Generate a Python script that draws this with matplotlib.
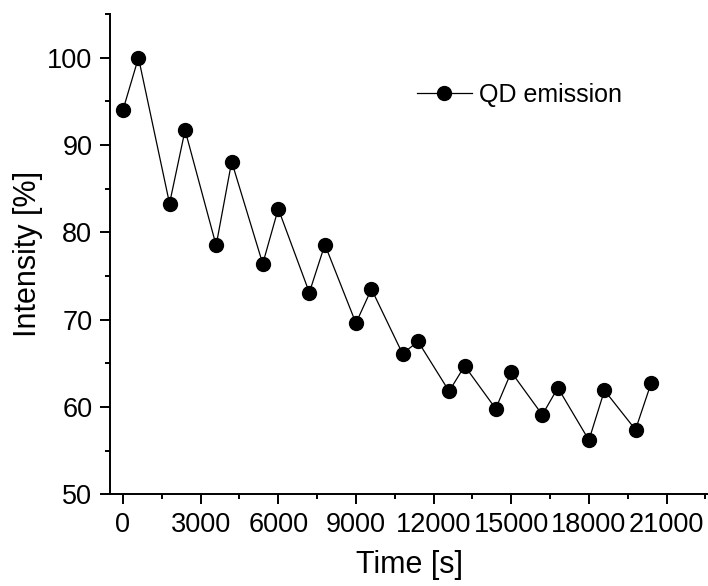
import matplotlib
matplotlib.use("Agg")
import matplotlib.pyplot as plt
from matplotlib.ticker import MultipleLocator

# datos
time_s = [0, 600, 1800, 2400, 3600, 4200, 5400, 6000, 7200, 7800, 9000, 9600,
          10800, 11400, 12600, 13200, 14400, 15000, 16200, 16800, 18000, 18600,
          19800, 20400]
intensity = [94.0, 100.0, 83.3, 91.7, 78.5, 88.1, 76.4, 82.7, 73.1, 78.6, 69.6, 73.5,
             66.1, 67.5, 61.8, 64.7, 59.8, 64.0, 59.1, 62.2, 56.2, 61.9,
             57.4, 62.7]
x_ticks = [0, 3000, 6000, 9000, 12000, 15000, 18000, 21000]
y_ticks = [50, 60, 70, 80, 90, 100]

plt.rcParams['font.family'] = ['Liberation Sans', 'DejaVu Sans']

fig = plt.figure(figsize=(7.08, 5.86), dpi=100)
fig.patch.set_facecolor("white")
ax = fig.add_axes([110 / 708, 1 - 494.3 / 586, 1 - 110 / 708, (494.3 - 14) / 586])

ax.plot(time_s, intensity, '-o', color="black", lw=0.9, markersize=10,
        label="QD emission")

ax.set_xlim(-500, 22600)
ax.set_ylim(50, 105)
ax.set_xticks(x_ticks)
ax.set_yticks(y_ticks)
ax.xaxis.set_minor_locator(MultipleLocator(1500))
ax.yaxis.set_minor_locator(MultipleLocator(5))

for side in ("top", "right"):
    ax.spines[side].set_visible(False)
for side in ("left", "bottom"):
    ax.spines[side].set_linewidth(1.4)

ax.tick_params(which="major", direction="out", length=7.2, width=1.4,
               labelsize=19.5, pad=5.5)
ax.tick_params(which="minor", direction="out", length=3.6, width=1.4)

ax.set_xlabel("Time [s]", fontsize=22)
ax.set_ylabel("Intensity [%]", fontsize=22)
ax.xaxis.set_label_coords(0.5, -0.116)
ax.yaxis.set_label_coords(-0.112, 0.5)

leg = ax.legend(loc="center left", bbox_to_anchor=(416.7 / 708, 1 - 95 / 586),
                bbox_transform=fig.transFigure, frameon=False, fontsize=18,
                handlelength=2.2, handletextpad=0.3, borderpad=0, borderaxespad=0)

fig.savefig("out.png", dpi=100, facecolor=fig.get_facecolor())
